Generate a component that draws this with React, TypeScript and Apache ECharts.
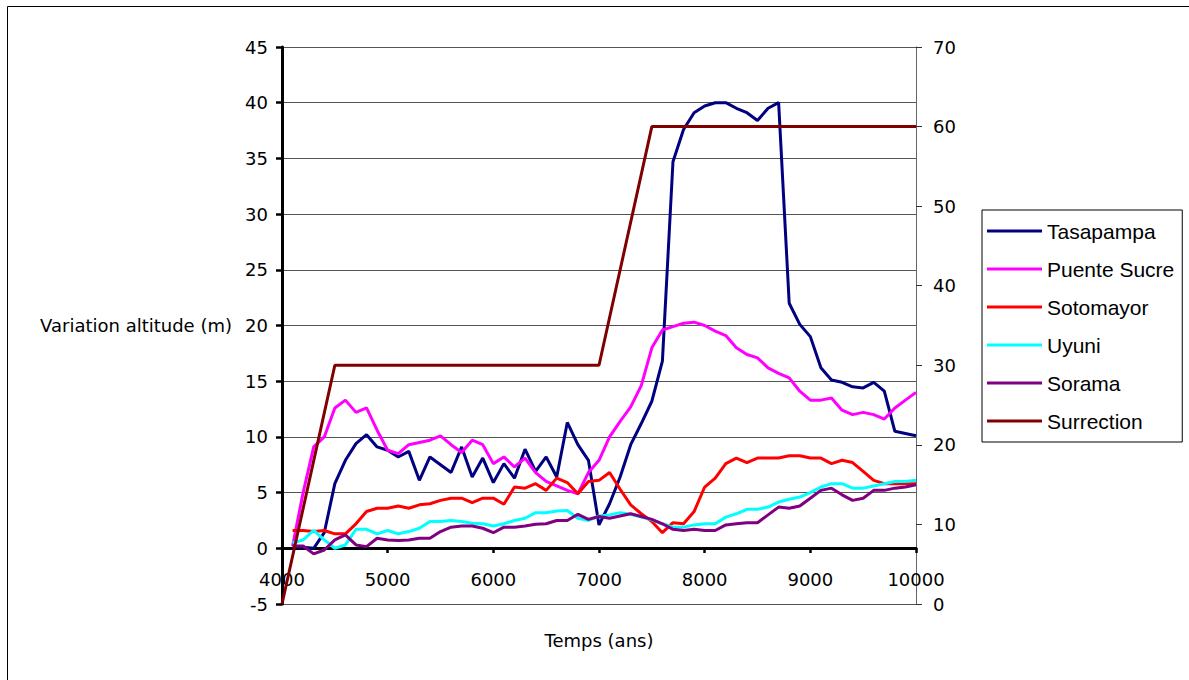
import React, { useEffect, useRef } from "react";
import * as echarts from "echarts";

const years = [
  4100, 4200, 4300, 4400, 4500, 4600, 4700, 4800, 4900, 5000,
  5100, 5200, 5300, 5400, 5500, 5600, 5700, 5800, 5900, 6000,
  6100, 6200, 6300, 6400, 6500, 6600, 6700, 6800, 6900, 7000,
  7100, 7200, 7300, 7400, 7500, 7600, 7700, 7800, 7900, 8000,
  8100, 8200, 8300, 8400, 8500, 8600, 8700, 8800, 8900, 9000,
  9100, 9200, 9300, 9400, 9500, 9600, 9700, 9800, 9900, 10000,
];

const tasapampa = [
  0.1, 0.1, 0.0, 1.4, 5.8, 7.9, 9.4, 10.2, 9.1, 8.8,
  8.2, 8.7, 6.1, 8.2, 7.5, 6.8, 9.1, 6.4, 8.1, 5.9,
  7.6, 6.3, 8.9, 6.9, 8.2, 6.4, 11.3, 9.3, 7.9, 2.1,
  4.0, 6.4, 9.3, 11.2, 13.2, 16.8, 34.7, 37.6, 39.1, 39.7,
  40.0, 40.0, 39.5, 39.1, 38.4, 39.5, 40.0, 22.0, 20.1, 19.0,
  16.2, 15.1, 14.9, 14.5, 14.4, 14.9, 14.1, 10.5, 10.3, 10.1,
];

const puenteSucre = [
  0.2, 5.0, 9.1, 10.0, 12.6, 13.3, 12.2, 12.6, 10.6, 8.8,
  8.5, 9.3, 9.5, 9.7, 10.1, 9.3, 8.6, 9.7, 9.3, 7.6,
  8.2, 7.3, 8.1, 6.8, 6.0, 5.6, 5.2, 4.9, 6.8, 7.9,
  10.0, 11.4, 12.7, 14.6, 18.0, 19.6, 19.9, 20.2, 20.3, 20.0,
  19.5, 19.1, 18.0, 17.4, 17.1, 16.2, 15.7, 15.3, 14.1, 13.3,
  13.3, 13.5, 12.4, 12.0, 12.2, 12.0, 11.6, 12.6, 13.3, 14.0,
];

const sotomayor = [
  1.6, 1.6, 1.5, 1.6, 1.3, 1.3, 2.2, 3.3, 3.6, 3.6,
  3.8, 3.6, 3.9, 4.0, 4.3, 4.5, 4.5, 4.1, 4.5, 4.5,
  3.95, 5.5, 5.4, 5.8, 5.2, 6.3, 5.9, 4.9, 6.0, 6.1,
  6.8, 5.3, 3.9, 3.1, 2.4, 1.4, 2.3, 2.2, 3.3, 5.5,
  6.3, 7.6, 8.1, 7.7, 8.1, 8.1, 8.1, 8.3, 8.3, 8.1,
  8.1, 7.6, 7.9, 7.7, 6.9, 6.1, 5.8, 5.8, 5.8, 5.8,
];

const uyuni = [
  0.5, 0.75, 1.6, 0.75, 0.0, 0.3, 1.7, 1.7, 1.3, 1.6,
  1.3, 1.5, 1.8, 2.4, 2.4, 2.5, 2.4, 2.25, 2.2, 2.0,
  2.2, 2.5, 2.7, 3.2, 3.2, 3.35, 3.4, 2.7, 2.5, 2.9,
  3.0, 3.2, 3.05, 2.8, 2.55, 2.2, 1.9, 1.9, 2.1, 2.2,
  2.2, 2.8, 3.1, 3.5, 3.5, 3.7, 4.15, 4.4, 4.6, 5.0,
  5.5, 5.8, 5.8, 5.4, 5.4, 5.6, 5.8, 6.0, 6.0, 6.1,
];

const sorama = [
  0.2, 0.2, -0.5, -0.15, 0.75, 1.2, 0.3, 0.15, 0.9, 0.75,
  0.7, 0.75, 0.9, 0.9, 1.5, 1.9, 2.0, 2.0, 1.8, 1.4,
  1.9, 1.9, 2.0, 2.15, 2.2, 2.5, 2.5, 3.05, 2.6, 2.85,
  2.7, 2.9, 3.1, 2.85, 2.6, 2.2, 1.7, 1.6, 1.7, 1.6,
  1.6, 2.1, 2.2, 2.3, 2.3, 3.0, 3.7, 3.6, 3.8, 4.5,
  5.2, 5.4, 4.8, 4.3, 4.5, 5.2, 5.2, 5.4, 5.5, 5.7,
];

const surrectionYears = [4000, 4500, 7000, 7500, 10000];
const surrectionValues = [0, 30, 30, 60, 60];

const seriesNames = ["Tasapampa", "Puente Sucre", "Sotomayor", "Uyuni", "Sorama", "Surrection"];
const seriesColors = ["#000080", "#FF00FF", "#FF0000", "#00FFFF", "#800080", "#800000"];

const leftTicks = { min: -5, max: 45, interval: 5 };
const rightTicks = { min: 0, max: 70, interval: 10 };
const xTicks = { min: 4000, max: 10000, interval: 1000 };

const axisFont = "'DejaVu Sans', Verdana, sans-serif";
const legendFont = "'Liberation Sans', Arial, sans-serif";

export default function App() {
  const ref = useRef<HTMLDivElement>(null);

  useEffect(() => {
    if (!ref.current) return;
    const chart = echarts.init(ref.current, null, { renderer: "svg" });
    const pair = (xs: number[], ys: number[]) => xs.map((x, i) => [x, ys[i]]);
    const stationData = [tasapampa, puenteSucre, sotomayor, uyuni, sorama];

    const series: any[] = stationData.map((vals, i) => ({
      name: seriesNames[i],
      type: "line",
      yAxisIndex: 0,
      data: pair(years, vals),
      showSymbol: false,
      symbol: "none",
      color: seriesColors[i],
      lineStyle: { color: seriesColors[i], width: 3 },
    }));
    series.push({
      name: seriesNames[5],
      type: "line",
      yAxisIndex: 1,
      data: pair(surrectionYears, surrectionValues),
      showSymbol: false,
      symbol: "none",
      color: seriesColors[5],
      lineStyle: { color: seriesColors[5], width: 3 },
    });

    chart.setOption({
      animation: false,
      backgroundColor: "#ffffff",
      grid: {
        left: 282,
        top: 47,
        right: 273,
        bottom: 76,
        containLabel: false,
        outerBoundsMode: "none",
      },
      graphic: [
        {
          type: "rect",
          silent: true,
          z: -10,
          shape: { x: 7.5, y: 6.5, width: 1300, height: 800 },
          style: { fill: "none", stroke: "#000", lineWidth: 1 },
        },
      ],
      legend: {
        data: seriesNames,
        orient: "vertical",
        left: 982,
        top: 210,
        icon: "rect",
        itemWidth: 55,
        itemHeight: 3,
        itemGap: 16,
        padding: [10, 8, 10, 5],
        backgroundColor: "#fff",
        borderColor: "#000",
        borderWidth: 1,
        textStyle: { fontFamily: legendFont, fontSize: 21, color: "#000", lineHeight: 22 },
      },
      xAxis: {
        type: "value",
        min: xTicks.min,
        max: xTicks.max,
        interval: xTicks.interval,
        offset: -56,
        name: "Temps (ans)",
        nameLocation: "middle",
        nameGap: 83,
        nameTextStyle: { fontFamily: axisFont, fontSize: 18, color: "#000" },
        axisLine: { show: true, onZero: false, lineStyle: { color: "#000", width: 3 } },
        axisTick: { show: true, length: 5, lineStyle: { color: "#000", width: 2.5 } },
        axisLabel: {
          margin: 22,
          fontFamily: axisFont,
          fontSize: 18,
          color: "#000",
          formatter: (v: number) => String(v),
        },
        splitLine: { show: false },
      },
      yAxis: [
        {
          type: "value",
          position: "left",
          min: leftTicks.min,
          max: leftTicks.max,
          interval: leftTicks.interval,
          name: "Variation altitude (m)",
          nameLocation: "middle",
          nameRotate: 0,
          nameGap: 50,
          nameTextStyle: { fontFamily: axisFont, fontSize: 18, color: "#000" },
          axisLine: { show: true, onZero: false, lineStyle: { color: "#000", width: 3 } },
          axisTick: { show: true, length: 6, lineStyle: { color: "#000", width: 2.5 } },
          axisLabel: {
            margin: 14,
            fontFamily: axisFont,
            fontSize: 18,
            color: "#000",
            formatter: (v: number) => String(v),
          },
          splitLine: { show: true, lineStyle: { color: "#555", width: 1 } },
        },
        {
          type: "value",
          position: "right",
          min: rightTicks.min,
          max: rightTicks.max,
          interval: rightTicks.interval,
          axisLine: { show: true, onZero: false, lineStyle: { color: "#666", width: 1 } },
          axisTick: { show: true, length: 6, lineStyle: { color: "#333", width: 1 } },
          axisLabel: {
            margin: 17,
            fontFamily: axisFont,
            fontSize: 18,
            color: "#000",
            formatter: (v: number) => String(v),
          },
          splitLine: { show: false },
        },
      ],
      series,
    });

    return () => chart.dispose();
  }, []);

  return (
    <div
      ref={ref}
      style={{ position: "fixed", left: 0, top: 0, width: 1189, height: 680, background: "#fff" }}
    />
  );
}
